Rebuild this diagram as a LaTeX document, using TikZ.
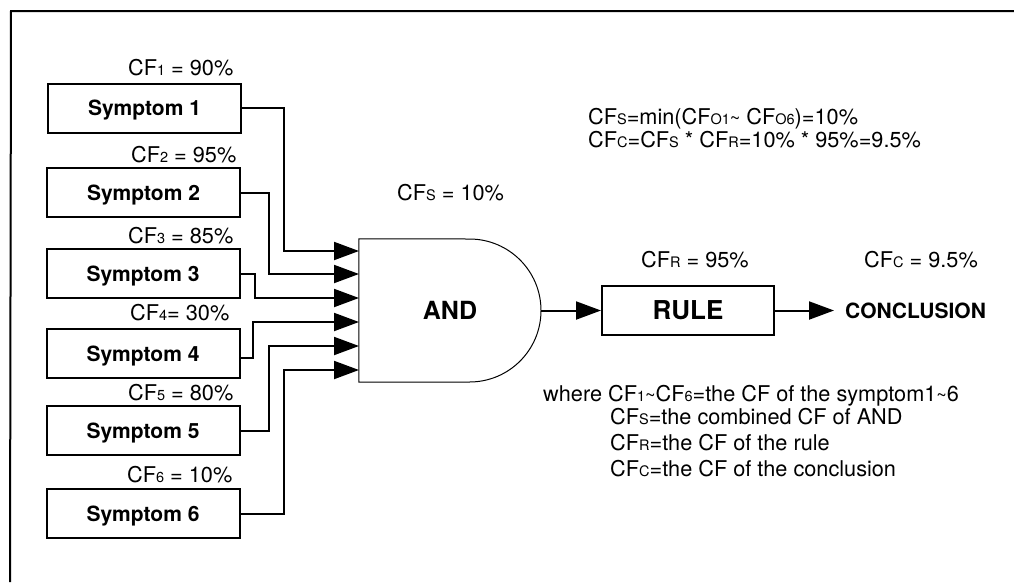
\documentclass[tikz,border=0pt]{standalone}
\usepackage{fontspec}
\setmainfont{TeX Gyre Heros}
\usetikzlibrary{arrows.meta}

\newcommand{\cf}[1]{CF{\fontsize{14.5}{14.5}\selectfont #1}}
\newcommand{\tld}{{\fontsize{18}{18}\selectfont\textasciitilde}}

\tikzset{
    symptombox/.style={draw, line width=2pt, minimum width=193pt, minimum height=49pt, text height=15pt, text depth=0pt, font=\fontsize{21}{24}\selectfont\bfseries},
    cflabel/.style={anchor=base west, inner sep=0pt, font=\fontsize{21.7}{24}\selectfont},
    wire/.style={line width=2pt, -{Triangle[length=25pt,width=18pt]}}
}

\begin{document}
\begin{tikzpicture}[x=1pt, y=-1pt]
    \useasboundingbox (0,0) rectangle (1014,582);

    % Frame
    \draw[line width=2pt] (1014,11) -- (11,11) -- (10,582);

    % AND gate
    \node[minimum width=182pt, minimum height=143pt, inner sep=0pt, font=\fontsize{25}{28}\selectfont\bfseries] (gate) at (450,310.5) {AND};
    \draw[line width=1pt] (gate.north west) -- (469.5,239) arc[start angle=90, end angle=-90, radius=71.5pt] -- (gate.south west) -- cycle;

    % Symptoms
    \foreach \i/\xs/\ys/\lx/\ly/\val/\xb/\yin/\dy in {
        1/144.5/108/128/75/{ = 90\%}/284/251/0,
        2/143.5/192.5/131/162/{ = 95\%}/269/274/0,
        3/143/273.5/128/243/{ = 85\%}/255/298/0,
        4/143/353.5/130/320/{= 30\%}/253/322/-4.5,
        5/143/430.5/128/400/{ = 80\%}/269/346/0,
        6/143/513.5/127/482/{ = 10\%}/284/370/0} {
        \node[symptombox] (s\i) at (\xs,\ys) {Symptom \i};
        \node[cflabel] (cf\i) at (\lx,\ly) {\cf{\i}\val};
        \coordinate (in\i) at (359,\yin);
        \draw[wire] ([yshift=\dy pt]s\i.east) -| (\xb,\yin) -- (in\i);
    }

    % Rule and conclusion
    \node[draw, line width=2pt, minimum width=172pt, minimum height=49pt, font=\fontsize{26}{28}\selectfont\bfseries] (rule) at (688,310.5) {RULE};
    \node[anchor=west, inner sep=0pt, font=\fontsize{21}{24}\selectfont\bfseries] (conclusion) at (845,311) {CONCLUSION};
    \coordinate (tip) at (834,310.5);
    \draw[wire] (gate.east) -- (rule.west);
    \draw[wire] (rule.east) -- (tip);

    % CF values
    \node[cflabel] (cfs) at (397,200) {\cf{S} = 10\%};
    \node[cflabel] (cfr) at (641,267) {\cf{R} = 95\%};
    \node[cflabel] (cfc) at (864,267) {\cf{C} = 9.5\%};

    % Formulas
    \node[cflabel] (minline) at (588,124) {\cf{S}=min(\cf{O1}\tld\ \cf{O6})=10\%};
    \node[cflabel] (prodline) at (588,147) {\cf{C}=\cf{S} * \cf{R}=10\% * 95\%=9.5\%};

    % Legend
    \node[cflabel] (where1) at (543,401) {where \cf{1}\tld\cf{6}=the CF of the symptom1\tld6};
    \node[cflabel] (where2) at (610,424) {\cf{S}=the combined CF of AND};
    \node[cflabel] (where3) at (610,450) {\cf{R}=the CF of the rule};
    \node[cflabel] (where4) at (610,476) {\cf{C}=the CF of the conclusion};
\end{tikzpicture}
\end{document}
